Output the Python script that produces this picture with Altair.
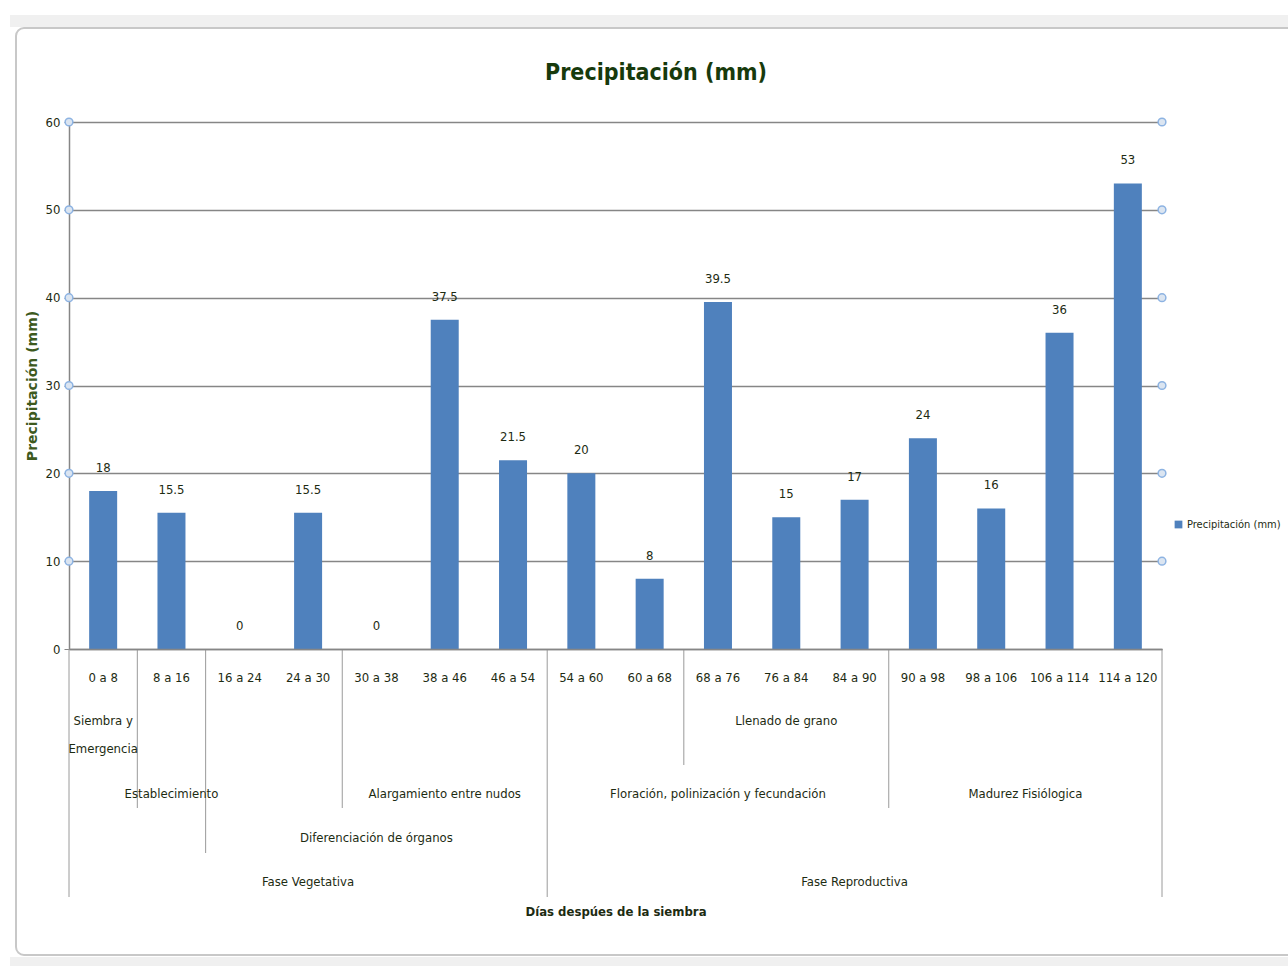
import altair as alt
import pandas as pd

# ---------------- data ----------------
categories = ["0 a 8", "8 a 16", "16 a 24", "24  a 30", "30 a 38", "38 a 46",
              "46 a 54", "54 a 60", "60 a 68", "68  a 76", "76 a 84", "84  a 90",
              "90 a 98", "98 a 106", "106 a 114", "114 a 120"]
precip = [18, 15.5, 0, 15.5, 0, 37.5, 21.5, 20, 8, 39.5, 15, 17, 24, 16, 36, 53]
value_labels = ["18", "15.5", "0", "15.5", "0", "37.5", "21.5", "20", "8",
                "39.5", "15", "17", "24", "16", "36", "53"]

group_names = ["Siembra y\nEmergencia", "Llenado de grano",
               "Establecimiento", "Alargamiento entre nudos",
               "Floración, polinización y fecundación", "Madurez Fisiólogica",
               "Diferenciación de órganos",
               "Fase Vegetativa", "Fase Reproductiva"]
group_start = [0, 9, 1, 4, 7, 12, 2, 0, 7]
group_end = [1, 12, 2, 7, 12, 16, 7, 7, 16]
group_level = [2, 2, 3, 3, 3, 3, 4, 5, 5]

boundary_pos = [0, 7, 16, 2, 1, 4, 12, 9]
boundary_depth = [5, 5, 5, 4, 3, 3, 3, 2]

y_ticks = [0, 10, 20, 30, 40, 50, 60]
series_name = "Precipitación (mm)"
chart_title = "Precipitación (mm)"
x_title = "Días despúes de la siembra"

# ---------------- styling ----------------
W, H = 1093, 527
FONT = "DejaVu Sans Condensed, Liberation Sans Narrow, sans-serif"
TXT = "#1d2b12"
GRID = "#868686"
BLUE = "#4F81BD"
FS = 13

bars_df = pd.DataFrame({
    "cat": categories,
    "pos": [i + 0.5 for i in range(len(categories))],
    "precip": precip,
    "lab": value_labels,
    "series": series_name,
})
groups_df = pd.DataFrame({
    "name": group_names,
    "mid": [(s + e) / 2 for s, e in zip(group_start, group_end)],
    "level": group_level,
})
bounds_df = pd.DataFrame({"b": boundary_pos, "depth": boundary_depth})
marker_df = pd.DataFrame({
    "x": [0] * 6 + [16] * 6,
    "y": [10, 20, 30, 40, 50, 60] * 2,
})

xscale = alt.Scale(domain=[0, 16], nice=False, zero=False, padding=0)
yscale = alt.Scale(domain=[0, 60], nice=False, padding=0)


def xq(field):
    return alt.X(field, scale=xscale)


def yq(field):
    return alt.Y(field, scale=yscale)


X = alt.X("pos:Q", scale=xscale,
          axis=alt.Axis(labels=False, ticks=False, grid=False, domain=True,
                        domainColor=GRID, domainWidth=1.5, zindex=1,
                        title=x_title, titleFont=FONT,
                        titleFontSize=FS, titleFontWeight="bold", titleColor=TXT,
                        titlePadding=256))
Y = alt.Y("precip:Q", scale=yscale,
          axis=alt.Axis(values=y_ticks, grid=True, gridColor=GRID, gridWidth=1.5,
                        domainColor=GRID, domainWidth=1.5, tickColor=GRID,
                        tickSize=5, labelFont=FONT, labelFontSize=FS,
                        labelColor=TXT, labelPadding=4, zindex=0,
                        title=series_name, titleFont="DejaVu Sans",
                        titleFontSize=14, titleFontWeight="bold",
                        titleColor="#3d5a1e", titlePadding=6))

bars = alt.Chart(bars_df).mark_bar(size=28).encode(
    x=X, y=Y,
    color=alt.Color("series:N", scale=alt.Scale(range=[BLUE]),
                    legend=alt.Legend(orient="none", legendX=1104, legendY=397,
                                      title=None, symbolType="square",
                                      symbolSize=60, labelFont=FONT,
                                      labelFontSize=11, labelColor=TXT,
                                      labelOffset=3)),
)

value_text = alt.Chart(bars_df).mark_text(
    font=FONT, fontSize=FS, color=TXT, baseline="middle", dy=-23
).encode(x=xq("pos:Q"), y=yq("precip:Q"), text="lab:N")

tick_text = alt.Chart(bars_df).mark_text(
    font=FONT, fontSize=FS, color=TXT, baseline="middle"
).encode(x=xq("pos:Q"), y=alt.value(556), text="cat:N")

level_y = {2: 593, 3: 666, 4: 710, 5: 754}
group_layers = []
for lv, ypx in level_y.items():
    group_layers.append(
        alt.Chart(groups_df).transform_filter(alt.datum.level == lv).mark_text(
            font=FONT, fontSize=FS, color=TXT, baseline="top",
            lineBreak="\n", lineHeight=28
        ).encode(x=xq("mid:Q"), y=alt.value(ypx), text="name:N")
    )

depth_len = {5: 248, 4: 204, 3: 159, 2: 116}
rule_layers = []
for d, ln in depth_len.items():
    rule_layers.append(
        alt.Chart(bounds_df).transform_filter(alt.datum.depth == d).mark_rule(
            color="#9a9a9a", strokeWidth=1
        ).encode(x=xq("b:Q"), y=alt.value(H), y2=alt.value(H + ln))
    )

markers = alt.Chart(marker_df).mark_point(
    shape="circle", size=60, filled=True, fill="#dbe5f1", stroke="#8db3e2",
    strokeWidth=1.5, opacity=1
).encode(x=xq("x:Q"), y=yq("y:Q"))

one_df = pd.DataFrame({"t": [chart_title]})
frame = alt.Chart(one_df).mark_rect(
    fillOpacity=0, stroke="#c8c8c8", strokeWidth=2, cornerRadius=8
).encode(x=alt.value(16 - 69), x2=alt.value(1300 - 69),
         y=alt.value(28 - 122), y2=alt.value(955 - 122))
strip_top = alt.Chart(one_df).mark_rect(fill="#f0f0f0").encode(
    x=alt.value(10 - 69), x2=alt.value(1300 - 69),
    y=alt.value(15 - 122), y2=alt.value(27 - 122))
strip_bot = alt.Chart(one_df).mark_rect(fill="#f0f0f0").encode(
    x=alt.value(10 - 69), x2=alt.value(1300 - 69),
    y=alt.value(957 - 122), y2=alt.value(966 - 122))
title_text = alt.Chart(one_df).mark_text(
    font=FONT, fontSize=23, fontWeight="bold", color="#173a0c", baseline="middle"
).encode(x=alt.value(656 - 69), y=alt.value(73 - 122), text="t:N")

chart = alt.layer(
    strip_top, strip_bot, frame, bars, *rule_layers, markers, value_text, tick_text,
    *group_layers, title_text
).properties(
    width=W, height=H,
    background="white",
    padding={"left": 69, "top": 122, "right": 126, "bottom": 317},
    autosize=alt.AutoSizeParams(type="none"),
).configure_view(stroke="transparent", strokeWidth=0
).configure_axisX(grid=False)

chart.save("out.html", embed_options={"renderer": "svg", "actions": False})
